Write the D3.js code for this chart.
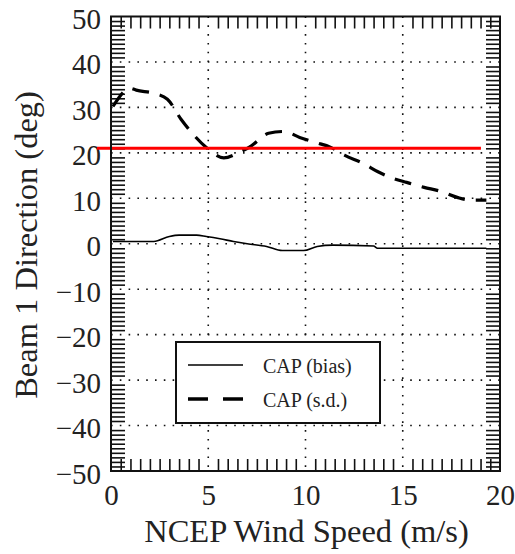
<!DOCTYPE html>
<html><head><meta charset="utf-8">
<script src="https://cdn.jsdelivr.net/npm/d3@7"></script>
<style>
html,body{margin:0;padding:0;background:#fff;}
svg{display:block;}
svg text{font-family:"Liberation Serif","DejaVu Serif","Times New Roman",serif;fill:#222;}
</style></head>
<body>
<svg id="chart" width="515" height="554"></svg>
<script>
// ---- data ----
const xTicks = [0, 5, 10, 15, 20];
const yTicks = [-50, -40, -30, -20, -10, 0, 10, 20, 30, 40, 50];
const sdSpeed = [0.1, 1.0, 1.3, 2.2, 2.9, 3.6, 4.1, 4.9, 5.8, 6.5, 7.2, 8.1, 8.9, 9.7, 10.5, 11.3, 12.0, 13.0, 13.7, 14.5, 15.2, 16.1, 16.9, 17.8, 18.5, 19.3];
const sdValues = [30.2, 34.2, 33.8, 33.1, 31.8, 27.4, 24.7, 21.2, 18.9, 19.9, 21.5, 24.3, 24.7, 23.4, 22.3, 21.2, 19.5, 17.6, 15.9, 14.4, 13.5, 12.4, 11.6, 10.2, 9.6, 9.6];
const biasSpeed = [0.1, 0.5, 2.2, 3.0, 3.5, 4.4, 4.9, 5.6, 6.3, 7.0, 8.0, 8.8, 9.9, 10.6, 11.4, 13.5, 13.7, 19.3];
const biasValues = [0.5, 0.5, 0.5, 1.6, 1.9, 1.9, 1.6, 1.1, 0.5, 0.0, -0.6, -1.5, -1.5, -0.6, -0.3, -0.5, -1.0, -1.0];
const refLevel = 21;
const refRange = [-0.72, 19.02];
const legendLabels = ["CAP (bias)", "CAP (s.d.)"];
const xTitle = "NCEP Wind Speed (m/s)";
const yTitle = "Beam 1 Direction (deg)";

// ---- layout ----
const L = 111, R = 500, T = 16.5, B = 471;
const FONT = "'Liberation Serif', 'DejaVu Serif', 'Times New Roman', serif";
const svg = d3.select("#chart");
const x = d3.scaleLinear().domain([0, 20]).range([L, R]);
const y = d3.scaleLinear().domain([-50, 50]).range([B, T]);

// gridlines (dotted)
const grid = svg.append("g");
grid.selectAll("line.gx").data(xTicks.filter(v => v > 0 && v < 20)).join("line")
  .attr("x1", d => x(d)).attr("x2", d => x(d)).attr("y1", T).attr("y2", B)
  .attr("stroke", "#111").attr("stroke-width", 1.6).attr("stroke-dasharray", "1.6,7.2");
grid.selectAll("line.gy").data(yTicks.filter(v => v > -50 && v < 50)).join("line")
  .attr("y1", d => y(d)).attr("y2", d => y(d)).attr("x1", L).attr("x2", R)
  .attr("stroke", "#111").attr("stroke-width", 1.6).attr("stroke-dasharray", "1.6,7.2");

// minor ticks
const minorX = d3.range(0.5, 20, 0.5).filter(v => Math.abs(v % 5) > 1e-6);
const minorY = d3.range(-49, 50, 1).filter(v => Math.abs(v % 10) > 1e-6);
function tickG(axis, tr) {
  const g = svg.append("g").attr("transform", tr).call(axis);
  g.select(".domain").remove();
  g.selectAll("line").attr("stroke", "#111").attr("stroke-width", 1.6);
  g.selectAll("text").remove();
  return g;
}
tickG(d3.axisTop(x).tickValues(minorX).tickSize(-12), `translate(0,${T})`);
tickG(d3.axisBottom(x).tickValues(minorX).tickSize(-12), `translate(0,${B})`);
tickG(d3.axisLeft(y).tickValues(minorY).tickSize(-14), `translate(${L},0)`);
tickG(d3.axisRight(y).tickValues(minorY).tickSize(-14), `translate(${R},0)`);

// tick labels
const xl = svg.append("g").attr("transform", `translate(0,${B})`)
  .call(d3.axisBottom(x).tickValues(xTicks).tickSize(0).tickPadding(0));
xl.attr("font-family", FONT);
xl.select(".domain").remove();
xl.selectAll("text").attr("font-size", 29).attr("dy", null).attr("y", 34)
  .attr("font-family", FONT).attr("fill", "#222");
const yl = svg.append("g").attr("transform", `translate(${L},0)`)
  .call(d3.axisLeft(y).tickValues(yTicks).tickSize(0).tickPadding(0));
yl.attr("font-family", FONT);
yl.select(".domain").remove();
yl.selectAll("text").attr("font-size", 29).attr("dy", null).attr("x", -10).attr("y", 12)
  .attr("font-family", FONT).attr("fill", "#222");

// axis titles
svg.append("text").attr("x", 306.5).attr("y", 542).attr("text-anchor", "middle")
  .attr("font-family", FONT).attr("font-size", 32.5).text(xTitle);
svg.append("text").attr("transform", `translate(37,245) rotate(-90)`).attr("text-anchor", "middle")
  .attr("font-family", FONT).attr("font-size", 32.5).text(yTitle);

// data lines
const line = d3.line().x(d => x(d[0])).y(d => y(d[1])).curve(d3.curveMonotoneX);
svg.append("path").datum(biasSpeed.map((s, i) => [s, biasValues[i]]))
  .attr("d", line).attr("fill", "none").attr("stroke", "#000").attr("stroke-width", 1.6);
svg.append("path").datum(sdSpeed.map((s, i) => [s, sdValues[i]]))
  .attr("d", line).attr("fill", "none").attr("stroke", "#000").attr("stroke-width", 3.2)
  .attr("stroke-dasharray", "17,11");

// red reference line
svg.append("line").attr("x1", x(refRange[0])).attr("x2", x(refRange[1]))
  .attr("y1", y(refLevel)).attr("y2", y(refLevel))
  .attr("stroke", "#ff0000").attr("stroke-width", 3);

// frame
svg.append("rect").attr("x", L).attr("y", T).attr("width", R - L).attr("height", B - T)
  .attr("fill", "none").attr("stroke", "#111").attr("stroke-width", 2);

// legend
const lg = svg.append("g");
lg.append("rect").attr("x", 176).attr("y", 342).attr("width", 204).attr("height", 81)
  .attr("fill", "#fff").attr("stroke", "#111").attr("stroke-width", 2);
const styles = [{w: 1.6, dash: null}, {w: 3.4, dash: "20,15"}];
legendLabels.forEach((lab, i) => {
  const yy = 365 + i * 34;
  lg.append("line").attr("x1", 188).attr("x2", 243).attr("y1", yy).attr("y2", yy)
    .attr("stroke", "#000").attr("stroke-width", styles[i].w)
    .attr("stroke-dasharray", styles[i].dash);
  lg.append("text").attr("x", 263).attr("y", yy + 8).attr("font-family", FONT)
    .attr("font-size", 20).text(lab);
});
</script>
</body></html>
